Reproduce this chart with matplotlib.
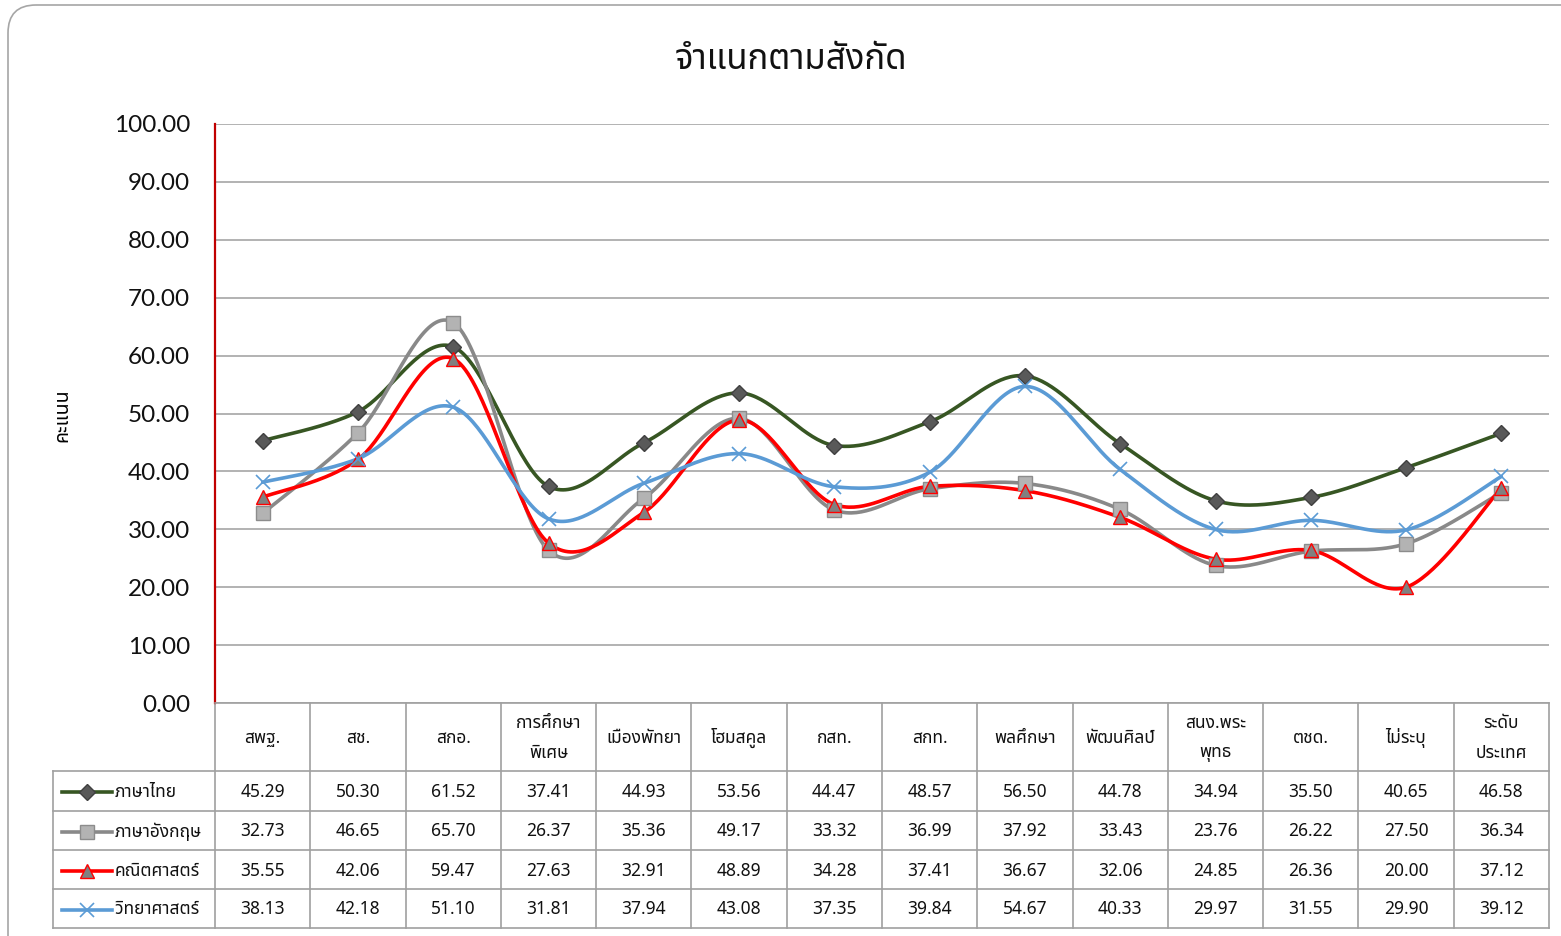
import matplotlib
matplotlib.use("Agg")
import matplotlib.pyplot as plt
from matplotlib import font_manager
from matplotlib.ft2font import FT2Font
from matplotlib.patches import FancyBboxPatch
from matplotlib.transforms import blended_transform_factory
import numpy as np

# data
categories = ['สพฐ.', 'สช.', 'สกอ.', 'การศึกษา\nพิเศษ', 'เมืองพัทยา', 'โฮมสคูล', 'กสท.',
              'สกท.', 'พลศึกษา', 'พัฒนศิลป์', 'สนง.พระ\nพุทธ', 'ตชด.', 'ไม่ระบุ', 'ระดับ\nประเทศ']
thai = [45.29, 50.30, 61.52, 37.41, 44.93, 53.56, 44.47, 48.57, 56.50, 44.78, 34.94, 35.50, 40.65, 46.58]
english = [32.73, 46.65, 65.70, 26.37, 35.36, 49.17, 33.32, 36.99, 37.92, 33.43, 23.76, 26.22, 27.50, 36.34]
math = [35.55, 42.06, 59.47, 27.63, 32.91, 48.89, 34.28, 37.41, 36.67, 32.06, 24.85, 26.36, 20.00, 37.12]
science = [38.13, 42.18, 51.10, 31.81, 37.94, 43.08, 37.35, 39.84, 54.67, 40.33, 29.97, 31.55, 29.90, 39.12]
series_names = ['ภาษาไทย', 'ภาษาอังกฤษ', 'คณิตศาสตร์', 'วิทยาศาสตร์']
series_values = [thai, english, math, science]
title = 'จำแนกตามสังกัด'
ylabel = 'คะแนน'


# find a font that can draw Thai
def thai_font():
    prefer = ['Noto Sans Thai', 'Noto Sans Thai UI', 'Sarabun', 'Tahoma', 'Loma', 'Garuda',
              'Kinnari', 'Norasi', 'Waree', 'Umpush', 'Noto Serif Thai']
    found = {}
    for f in font_manager.fontManager.ttflist:
        try:
            if 0x0E01 in FT2Font(f.fname).get_charmap():
                found.setdefault(f.name, f.fname)
        except Exception:
            pass
    for p in prefer:
        if p in found:
            return p
    if found:
        return sorted(found)[0]
    return 'DejaVu Sans'


TH = [thai_font(), 'DejaVu Sans']
NUM = ['Lato', 'DejaVu Sans']
plt.rcParams['font.family'] = TH

styles = [
    dict(color='#375623', marker='D', ms=8, mfc='#595959', mec='#404040', mew=1),
    dict(color='#898989', marker='s', ms=10, mfc='#B3B3B3', mec='#8C8C8C', mew=1),
    dict(color='#FF0000', marker='^', ms=10, mfc='#808080', mec='#FF0000', mew=1),
    dict(color='#5B9BD5', marker='x', ms=10, mfc='#5B9BD5', mec='#5B9BD5', mew=1.2),
]

W, H = 1561, 936
fig = plt.figure(figsize=(W / 100, H / 100), dpi=100)

# background pixel-coordinate axes for border and table lines
bg = fig.add_axes([0, 0, 1, 1])
bg.set_xlim(0, W)
bg.set_ylim(H, 0)
bg.axis('off')
border = FancyBboxPatch((8, 5), W + 40, H + 40, boxstyle='round,pad=0,rounding_size=28',
                        fc='none', ec='#A6A6A6', lw=1.2)
bg.add_patch(border)

x0, x1, ytop, ybot = 215, 1549, 124, 703
ax = fig.add_axes([x0 / W, 1 - ybot / H, (x1 - x0) / W, (ybot - ytop) / H])
ax.patch.set_alpha(0)
n = len(categories)
xs = np.arange(n)
ax.set_xlim(-0.5, n - 0.5)
ax.set_ylim(0, 100)
ax.set_yticks(np.arange(0, 101, 10))
ax.set_yticklabels([f'{v:.2f}' for v in np.arange(0, 101, 10)], family=NUM, fontsize=17.5)
ax.set_xticks([])
ax.tick_params(axis='y', length=0, pad=18, labelcolor='#111111')
ax.yaxis.grid(True, color='#A6A6A6', lw=1.2)
ax.set_axisbelow(True)
for s in ['top', 'right']:
    ax.spines[s].set_visible(False)
ax.spines['left'].set_color('#C00000')
ax.spines['left'].set_linewidth(1.6)
ax.spines['bottom'].set_color('#A0A0A0')
ax.spines['bottom'].set_linewidth(1.2)

# px per data unit, used to smooth in screen space like Excel does
sx = (x1 - x0) / n
sy = (ybot - ytop) / 100.0


def smooth(xv, yv, steps=40):
    P = np.column_stack([np.asarray(xv, float) * sx, np.asarray(yv, float) * sy])
    out = [P[:1]]
    t = np.linspace(0, 1, steps)[1:, None]
    for i in range(len(P) - 1):
        p0 = P[i - 1] if i > 0 else P[i]
        p1, p2 = P[i], P[i + 1]
        p3 = P[i + 2] if i + 2 < len(P) else P[i + 1]
        c1 = p1 + (p2 - p0) / 6
        c2 = p2 - (p3 - p1) / 6
        b = ((1 - t) ** 3) * p1 + 3 * ((1 - t) ** 2) * t * c1 + 3 * (1 - t) * t ** 2 * c2 + t ** 3 * p2
        out.append(b)
    Q = np.vstack(out)
    return Q[:, 0] / sx, Q[:, 1] / sy


for vals, st in zip(series_values, styles):
    cx, cy = smooth(xs, vals)
    ax.plot(cx, cy, color=st['color'], lw=2.6, solid_capstyle='round', zorder=3)
    ax.plot(xs, vals, ls='none', marker=st['marker'], ms=st['ms'], mfc=st['mfc'],
            mec=st['mec'], mew=st['mew'], zorder=4)

fig.text(791 / W, 1 - 60 / H, title, ha='center', va='center', fontsize=25, color='#111111')
fig.text(62 / W, 1 - 415 / H, ylabel, ha='center', va='center', rotation=90, fontsize=14)

# data table
tr = blended_transform_factory(ax.transData, bg.transData)
edges = np.arange(n + 1) - 0.5
row_edges = [703, 771, 811, 850, 889, 928]
lc = '#A0A0A0'
for e in edges:
    ax.plot([e, e], [row_edges[0], row_edges[-1]], color=lc, lw=1.2, transform=tr,
            clip_on=False)
for r in row_edges[1:]:
    bg.plot([53, x1], [r, r], color=lc, lw=1.2)
bg.plot([53, 53], [row_edges[1], row_edges[-1]], color=lc, lw=1.2)

for i, c in enumerate(categories):
    ax.text(i, (row_edges[0] + row_edges[1]) / 2 + 1, c, transform=tr, ha='center',
            va='center', fontsize=12.5, linespacing=1.8, color='#111111')

for j, (name, vals, st) in enumerate(zip(series_names, series_values, styles)):
    yc = (row_edges[j + 1] + row_edges[j + 2]) / 2 + 1
    for i, v in enumerate(vals):
        ax.text(i, yc, f'{v:.2f}', transform=tr, ha='center', va='center', fontsize=12.5,
                color='#111111')
    bg.plot([62, 112], [yc, yc], color=st['color'], lw=2.6)
    bg.plot([87], [yc], marker=st['marker'], ms=st['ms'], mfc=st['mfc'], mec=st['mec'],
            mew=st['mew'])
    bg.text(115, yc, name, ha='left', va='center', fontsize=12.5, color='#111111')

fig.savefig('out.png', dpi=100)
